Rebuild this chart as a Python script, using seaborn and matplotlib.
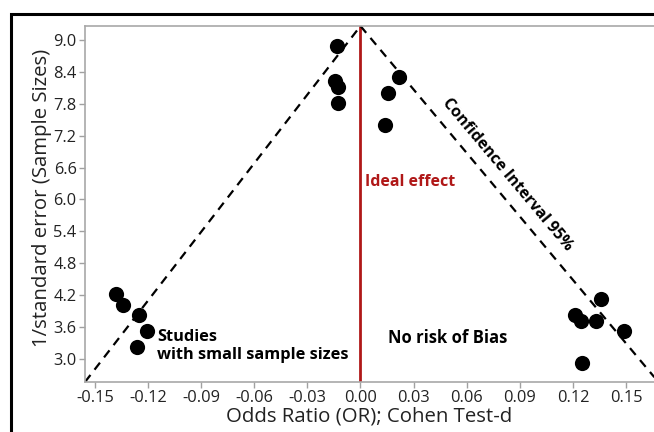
import matplotlib
matplotlib.use("Agg")
import matplotlib.pyplot as plt
import matplotlib.patches as mpatches
import seaborn as sns
import pandas as pd

# Data
odds_ratio = [-0.0133, -0.0142, -0.0128, -0.0128, 0.0216, 0.0154, 0.0139,
              -0.1379, -0.1341, -0.1253, -0.1206, -0.1262,
              0.1360, 0.1214, 0.1246, 0.1332, 0.1490, 0.1251]
inv_se = [8.89, 8.22, 8.11, 7.81, 8.30, 8.01, 7.40,
          4.22, 4.01, 3.83, 3.53, 3.23,
          4.13, 3.83, 3.72, 3.72, 3.53, 2.93]

ci_left_x = [-0.1556, 0.0]
ci_left_y = [2.57, 9.26]
ci_right_x = [0.0, 0.1660]
ci_right_y = [9.26, 2.66]

x_ticks = [-0.15, -0.12, -0.09, -0.06, -0.03, 0.00, 0.03, 0.06, 0.09, 0.12, 0.15]
y_ticks = [3.0, 3.6, 4.2, 4.8, 5.4, 6.0, 6.6, 7.2, 7.8, 8.4, 9.0]

df = pd.DataFrame({"or": odds_ratio, "ise": inv_se})

sns.set_theme(style="white")
plt.rcParams['font.family'] = ['Open Sans', 'DejaVu Sans']

fig = plt.figure(figsize=(6.54, 4.32), dpi=100)
ax = fig.add_axes([85/654, 50/432, 1 - 85/654, (382-26)/432])

# outer black frame (partially cropped)
frame = mpatches.Rectangle((11/654, -0.1), 1.2, (432-14)/432 + 0.1,
                           transform=fig.transFigure, fill=False,
                           edgecolor='black', linewidth=2.2, zorder=0)
fig.patches.append(frame)

ax.set_xlim(-0.1556, 0.1658)
ax.set_ylim(2.57, 9.26)

ax.plot(ci_left_x, ci_left_y, ls=(0, (4, 3)), color='black', lw=1.6, zorder=2)
ax.plot(ci_right_x, ci_right_y, ls=(0, (4, 3)), color='black', lw=1.6, zorder=2)
ax.axvline(0.0, color='#b01818', lw=2, zorder=1)

sns.scatterplot(data=df, x="or", y="ise", ax=ax, s=120, color='black',
                edgecolor='black', linewidth=0, zorder=3, legend=False)

ax.set_xticks(x_ticks)
ax.set_xticklabels([f"{v:.2f}" for v in x_ticks])
ax.set_yticks(y_ticks)
ax.set_yticklabels([f"{v:.1f}" for v in y_ticks])
ax.tick_params(axis='both', which='both', length=4, width=1, color='#a0a0a0',
               labelsize=11.8, labelcolor='#222222', direction='out', pad=2)
ax.tick_params(axis='x', bottom=True)
ax.tick_params(axis='y', left=True)

for side in ['left', 'bottom', 'top']:
    ax.spines[side].set_color('#a8a8a8')
    ax.spines[side].set_linewidth(1.2)
ax.spines['right'].set_visible(False)

ax.set_xlabel("Odds Ratio (OR); Cohen Test-d", fontsize=14.7, color='#222222')
ax.set_ylabel("1/standard error (Sample Sizes)", fontsize=14.7, color='#222222')
ax.xaxis.set_label_coords(0.5, -0.07)
ax.yaxis.set_label_coords(-0.058, 0.517)

ax.text(0.0028, 6.33, "Ideal effect", color='#b01818', fontsize=11.5,
        fontweight='bold', ha='left', va='center')
ax.text(0.0830, 6.46, "Confidence Interval 95%", color='black', fontsize=11.5,
        fontweight='bold', ha='center', va='center', rotation=-50,
        rotation_mode='anchor')
ax.text(-0.1148, 3.25, "Studies\nwith small sample sizes", color='black',
        fontsize=11.8, fontweight='bold', ha='left', va='center', linespacing=1.15)
ax.text(0.0155, 3.39, "No risk of Bias", color='black', fontsize=12,
        fontweight='bold', ha='left', va='center')

fig.savefig("out.png", dpi=100)
